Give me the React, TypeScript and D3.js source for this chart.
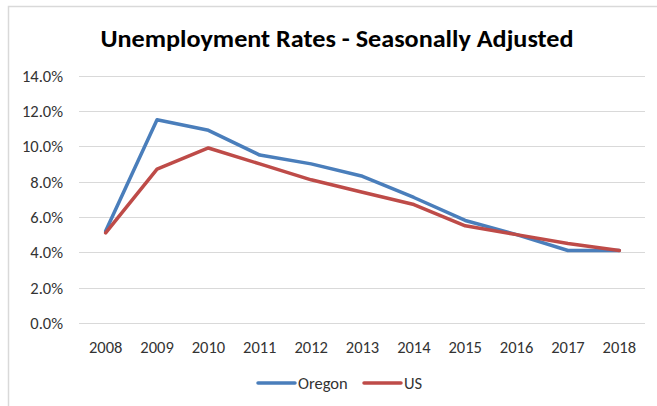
import React from "react";
import * as d3 from "d3";

const years = ["2008","2009","2010","2011","2012","2013","2014","2015","2016","2017","2018"];
const oregon = [5.2, 11.5, 10.9, 9.5, 9.0, 8.3, 7.1, 5.8, 5.0, 4.1, 4.1];
const us = [5.1, 8.7, 9.9, 9.0, 8.1, 7.4, 6.7, 5.5, 5.0, 4.5, 4.1];
const yTicks = [0, 2, 4, 6, 8, 10, 12, 14];
const seriesNames = ["Oregon", "US"];
const seriesColors = ["#4A7EBB", "#BE4B48"];

const W = 657, H = 406;
const FONT = "Carlito, Calibri, 'Open Sans', 'Liberation Sans', sans-serif";

export default function App() {
  const x = d3.scaleBand<string>().domain(years).range([80, 645]);
  const y = d3.scaleLinear().domain([0, 14]).range([323, 75.5]);
  const line = d3.line<number>()
    .x((_, i) => (x(years[i]) as number) + x.bandwidth() / 2)
    .y(d => y(d));
  const data = [oregon, us];
  return (
    <svg width={W} height={H} style={{ position: "absolute", left: 0, top: 0 }} fontFamily={FONT}>
      <rect x={0} y={0} width={W} height={H} fill="#fff" />
      <rect x={8.5} y={6.5} width={W + 10} height={H + 10} fill="#fff" stroke="#d9d9d9" strokeWidth={1.5} />
      <text x={337} y={47} textAnchor="middle" fontSize={25} fontWeight="bold" fill="#000"
        textLength={473} lengthAdjust="spacingAndGlyphs">Unemployment Rates - Seasonally Adjusted</text>
      {yTicks.map(t => (
        <g key={t}>
          <line x1={79} x2={645} y1={Math.round(y(t)) + 0.5} y2={Math.round(y(t)) + 0.5} stroke="#d9d9d9" strokeWidth={1} />
          <text x={63} y={y(t) + 6} textAnchor="end" fontSize={16.5} fill="#333">{t.toFixed(1) + "%"}</text>
        </g>
      ))}
      {years.map(yr => (
        <text key={yr} x={(x(yr) as number) + x.bandwidth() / 2} y={353} textAnchor="middle" fontSize={16.5} fill="#333">{yr}</text>
      ))}
      {data.map((d, i) => (
        <path key={i} d={line(d) || ""} fill="none" stroke={seriesColors[i]} strokeWidth={3.5} strokeLinejoin="round" strokeLinecap="round" />
      ))}
      {seriesNames.map((n, i) => {
        const lx = i === 0 ? 258 : 364;
        return (
          <g key={n}>
            <line x1={lx} x2={lx + 37} y1={383} y2={383} stroke={seriesColors[i]} strokeWidth={3.5} strokeLinecap="round" />
            <text x={lx + 40} y={389} fontSize={16.5} fill="#333">{n}</text>
          </g>
        );
      })}
    </svg>
  );
}
